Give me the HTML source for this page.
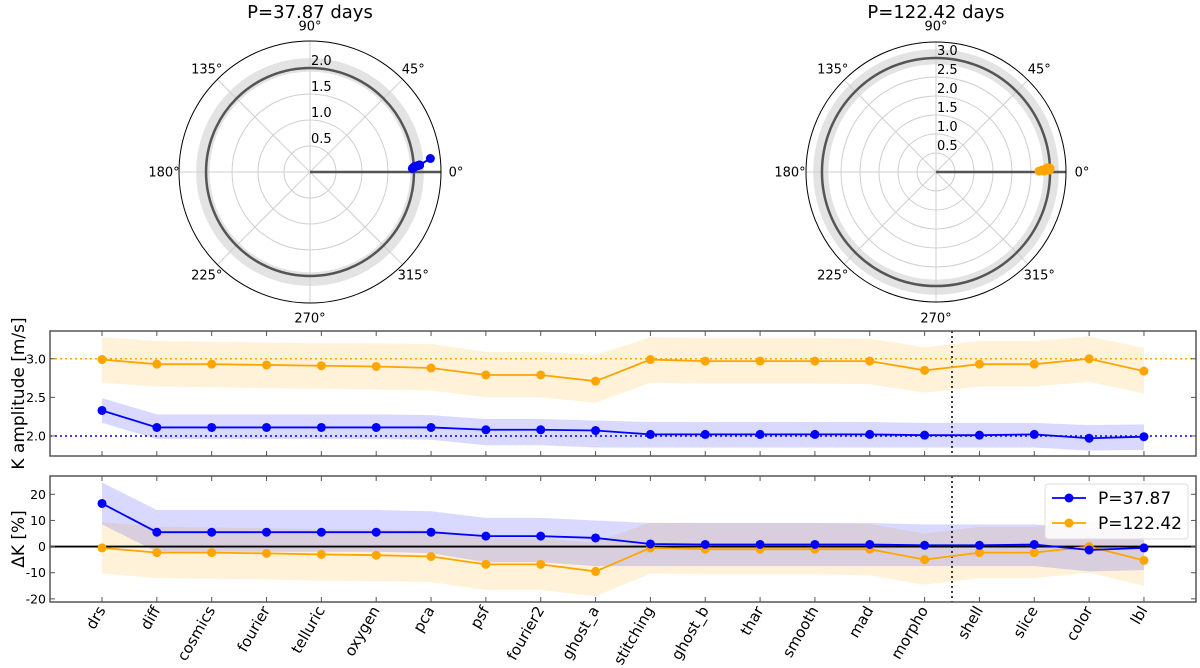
<!DOCTYPE html>
<html><head><meta charset="utf-8"><style>
html,body{margin:0;padding:0;background:#fff}
svg{display:block;font-family:"DejaVu Sans","Liberation Sans",sans-serif}
</style></head><body>
<svg id="fig" width="1200" height="668" viewBox="0 0 1200 668" xmlns="http://www.w3.org/2000/svg"></svg>
<script>
const categories=["drs","diff","cosmics","fourier","telluric","oxygen","pca","psf","fourier2","ghost_a","stitching","ghost_b","thar","smooth","mad","morpho","shell","slice","color","lbl"];
const kBlue=[2.33,2.11,2.11,2.11,2.11,2.11,2.11,2.08,2.08,2.07,2.02,2.02,2.02,2.02,2.02,2.01,2.01,2.02,1.97,1.99];
const kBlueLo=[2.17,1.96,1.96,1.96,1.96,1.96,1.95,1.88,1.88,1.85,1.85,1.85,1.85,1.85,1.85,1.85,1.85,1.85,1.81,1.82];
const kBlueHi=[2.49,2.28,2.28,2.28,2.28,2.28,2.27,2.22,2.22,2.20,2.18,2.18,2.18,2.18,2.18,2.17,2.17,2.17,2.14,2.15];
const kOrange=[2.99,2.93,2.93,2.92,2.91,2.90,2.88,2.79,2.79,2.71,2.99,2.97,2.97,2.97,2.97,2.85,2.93,2.93,3.00,2.84];
const kOrangeLo=[2.69,2.64,2.63,2.62,2.61,2.60,2.59,2.50,2.50,2.43,2.69,2.68,2.68,2.68,2.67,2.56,2.64,2.64,2.70,2.55];
const kOrangeHi=[3.28,3.23,3.22,3.21,3.20,3.20,3.19,3.09,3.09,3.05,3.28,3.27,3.27,3.27,3.26,3.15,3.23,3.23,3.29,3.14];
const dBlue=[16.5,5.5,5.5,5.5,5.5,5.5,5.5,4.0,4.0,3.3,1.0,0.8,0.8,0.8,0.8,0.5,0.5,0.8,-1.3,-0.5];
const dBlueLo=[8.5,-2.0,-2.0,-2.0,-2.0,-2.0,-2.5,-6.0,-6.0,-7.5,-7.5,-7.5,-7.5,-7.5,-7.5,-7.5,-7.5,-7.5,-9.5,-9.0];
const dBlueHi=[24.5,14.0,14.0,14.0,14.0,14.0,13.5,11.0,11.0,10.0,9.0,9.0,9.0,9.0,9.0,8.5,8.5,8.5,7.0,7.5];
const dOrange=[-0.5,-2.3,-2.3,-2.6,-3.0,-3.3,-3.8,-6.8,-6.8,-9.5,-0.5,-1.0,-1.0,-1.0,-1.0,-5.0,-2.3,-2.3,0.0,-5.3];
const dOrangeLo=[-10.3,-12.0,-12.3,-12.6,-13.0,-13.3,-13.6,-16.6,-16.6,-19.0,-10.3,-10.6,-10.6,-10.6,-11.0,-14.6,-12.0,-12.0,-10.0,-15.0];
const dOrangeHi=[9.3,7.6,7.3,7.0,6.6,6.6,6.3,3.0,3.0,1.6,9.3,9.0,9.0,9.0,8.6,5.0,7.6,7.6,9.6,4.6];
const phaseBlue=[6.4,3.6,3.6,3.6,3.6,3.6,3.6,3.4,3.4,3.3,3.0,3.0,3.0,3.0,3.0,2.8,2.8,3.0,2.0,2.5];
const phaseOrange=[1.5,2.0,2.0,2.0,2.0,1.5,1.5,1.0,1.0,0.5,1.0,1.0,1.0,1.0,1.0,0.5,1.5,1.5,2.0,0.5];
const kTicks=[2.0,2.5,3.0];
const dTicks=[-20,-10,0,10,20];
const polar1Rings=[0.5,1.0,1.5,2.0];
const polar2Rings=[0.5,1.0,1.5,2.0,2.5,3.0];
const angleTicks=[0,45,90,135,180,225,270,315];

const NS="http://www.w3.org/2000/svg";
const svg=document.getElementById('fig');
function el(tag,attrs,parent,text){const e=document.createElementNS(NS,tag);for(const k in attrs)e.setAttribute(k,attrs[k]);if(text!==undefined)e.textContent=text;(parent||svg).appendChild(e);return e;}

function polar(cx,cy,R,rmax,rings,truth,bandLo,bandHi,radii,phases,color,title,name){
  const g=el('g',{},svg);
  
  
  const s=r=>r/rmax*R;
  const t=el('text',{x:cx,y:18,'text-anchor':'middle','font-size':18},g,title);
  
  
  const band=el('circle',{cx:cx,cy:cy,r:s((bandLo+bandHi)/2),fill:'none',stroke:'#e3e3e3','stroke-width':s(bandHi)-s(bandLo)},g);
  
  
  rings.forEach(r=>{el('circle',{cx:cx,cy:cy,r:s(r),fill:'none',stroke:'#cfcfcf','stroke-width':1},g);});
  angleTicks.forEach(a=>{const rad=a*Math.PI/180;el('line',{x1:cx,y1:cy,x2:cx+R*Math.cos(rad),y2:cy-R*Math.sin(rad),stroke:'#cfcfcf','stroke-width':1},g);
    const lx=cx+146*Math.cos(rad),ly=cy-146*Math.sin(rad);
    const lt=el('text',{x:lx,y:ly+4.5,'text-anchor':'middle','font-size':13},g,a+'°');
    
    });
  const tc=el('circle',{cx:cx,cy:cy,r:s(truth),fill:'none',stroke:'#555','stroke-width':2.5},g);
  
  
  el('line',{x1:cx,y1:cy,x2:cx+R,y2:cy,stroke:'#555','stroke-width':2.5},g);
  el('circle',{cx:cx,cy:cy,r:R,fill:'none',stroke:'#000','stroke-width':1},g);
  rings.forEach(r=>{const rl=el('text',{x:cx+1,y:cy-s(r)-3,'font-size':13},g,r.toFixed(1));
    
    });
  let pts=radii.map((r,i)=>{const a=phases[i]*Math.PI/180;return [cx+s(r)*Math.cos(a),cy-s(r)*Math.sin(a)];});
  el('polyline',{points:pts.map(p=>p.join(',')).join(' '),fill:'none',stroke:color,'stroke-width':2},g);
  pts.forEach(p=>{const m=el('circle',{cx:p[0],cy:p[1],r:4.5,fill:color},g);
    
    });
}
polar(310,172,131,2.52,polar1Rings,2.0,1.93,2.19,kBlue,phaseBlue,'#0000ff','P=37.87 days','polar-plot-p37');
polar(936,172,130,3.42,polar2Rings,3.0,2.83,3.23,kOrange,phaseOrange,'#ffa500','P=122.42 days','polar-plot-p122');

const X0=50,X1=1196,xFirst=102,xStep=54.84;
const xs=i=>xFirst+i*xStep;
function panel(top,bot,ymin,ymax,ticks,tickFmt,series,refLines,ylabel,name){
  const g=el('g',{},svg);
  
  
  const ys=v=>bot-(v-ymin)/(ymax-ymin)*(bot-top);
  const clip='clip-'+name;
  const cp=el('clipPath',{id:clip},g);el('rect',{x:X0,y:top,width:X1-X0,height:bot-top},cp);
  const inner=el('g',{'clip-path':'url(#'+clip+')'},g);
  series.forEach(sr=>{
    const up=sr.hi.map((v,i)=>xs(i)+','+ys(v)),dn=sr.lo.map((v,i)=>xs(i)+','+ys(v)).reverse();
    const b=el('polygon',{points:up.concat(dn).join(' '),fill:sr.band,'fill-opacity':0.15,stroke:'none'},inner);
    
    
  });
  refLines.forEach(r=>{el('line',{x1:X0,x2:X1,y1:ys(r.v),y2:ys(r.v),stroke:r.c,'stroke-width':r.w,'stroke-dasharray':r.d},inner);});
  el('line',{x1:952,x2:952,y1:top,y2:bot,stroke:'#000','stroke-width':1.5,'stroke-dasharray':'2,3'},inner);
  series.forEach(sr=>{
    const l=el('polyline',{points:sr.v.map((v,i)=>xs(i)+','+ys(v)).join(' '),fill:'none',stroke:sr.c,'stroke-width':1.8},inner);
    
    
    sr.v.forEach((v,i)=>{const m=el('circle',{cx:xs(i),cy:ys(v),r:4.5,fill:sr.c},inner);
      
      });
  });
  el('rect',{x:X0,y:top,width:X1-X0,height:bot-top,fill:'none',stroke:'#555','stroke-width':1.5},g);
  categories.forEach((c,i)=>{el('line',{x1:xs(i),x2:xs(i),y1:bot,y2:bot-5,stroke:'#555'},g);el('line',{x1:xs(i),x2:xs(i),y1:top,y2:top+5,stroke:'#555'},g);});
  ticks.forEach(t=>{const y=ys(t);el('line',{x1:X0,x2:X0+5,y1:y,y2:y,stroke:'#555'},g);el('line',{x1:X1,x2:X1-5,y1:y,y2:y,stroke:'#555'},g);
    const tl=el('text',{x:X0-4,y:y+4.5,'text-anchor':'end','font-size':12.5},g,tickFmt(t));
    
    });
  const cy=(top+bot)/2;
  const yl=el('text',{x:24,y:cy,'text-anchor':'middle','font-size':17,transform:'rotate(-90 24 '+cy+')'},g,ylabel);
  
  
  return ys;
}
panel(331,456,1.74,3.36,kTicks,t=>t.toFixed(1),[
  {name:'p122',v:kOrange,lo:kOrangeLo,hi:kOrangeHi,c:'#ffa500',band:'#ffa500'},
  {name:'p37',v:kBlue,lo:kBlueLo,hi:kBlueHi,c:'#0000ff',band:'#0000ff'}],
  [{v:3.0,c:'#ffa500',w:1.5,d:'2,3'},{v:2.0,c:'#0000ff',w:1.5,d:'2,3'}],'K amplitude [m/s]','k-amplitude-panel');
panel(476,602,-21.2,27.0,dTicks,t=>String(t),[
  {name:'p122',v:dOrange,lo:dOrangeLo,hi:dOrangeHi,c:'#ffa500',band:'#ffa500'},
  {name:'p37',v:dBlue,lo:dBlueLo,hi:dBlueHi,c:'#0000ff',band:'#0000ff'}],
  [{v:0,c:'#000',w:1.8,d:'none'}],'ΔK [%]','delta-k-panel');

categories.forEach((c,i)=>{const x=xs(i)+4,y=610;
  const t=el('text',{x:x,y:y,'text-anchor':'end','font-size':15,transform:'rotate(-60 '+x+' '+y+')'},svg,c);
  
  });

const lg=el('g',{},svg);


el('rect',{x:1045,y:484,width:143,height:55,rx:3,fill:'#fff','fill-opacity':0.85,stroke:'#ddd'},lg);
[['P=37.87','#0000ff',498],['P=122.42','#ffa500',523]].forEach(e=>{
  const eg=el('g',{},lg);
  
  
  el('line',{x1:1052,x2:1086,y1:e[2],y2:e[2],stroke:e[1],'stroke-width':1.8},eg);
  el('circle',{cx:1069,cy:e[2],r:4.5,fill:e[1]},eg);
  el('text',{x:1098,y:e[2]+6,'font-size':17},eg,e[0]);
});
</script>
</body></html>
